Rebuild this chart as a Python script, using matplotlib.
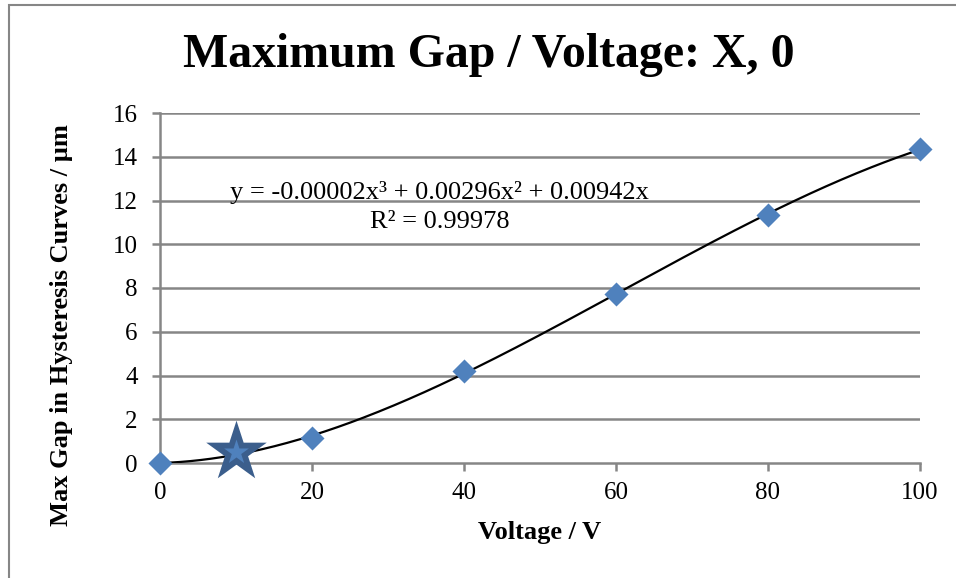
import numpy as np
import matplotlib.pyplot as plt
from matplotlib.patches import Rectangle

# datos
voltaje = [0, 20, 40, 60, 80, 100]
gap_max = [0, 1.14, 4.2, 7.73, 11.34, 14.35]
voltaje_estrella = [10]
gap_estrella = [0.5]
ticks_y = [0, 2, 4, 6, 8, 10, 12, 14, 16]
ticks_x = [0, 20, 40, 60, 80, 100]

plt.rcParams['font.family'] = ['Liberation Serif', 'DejaVu Serif']

fig = plt.figure(figsize=(9.56, 5.78), dpi=100)
ax = fig.add_axes([160/956, 1 - 463/578, 760/956, 350/578])

# borde del area del grafico (estilo excel)
fig.patches.append(Rectangle((9/956, -0.1), 1.2, 1 - 5/578 + 0.1, transform=fig.transFigure,
                             fill=False, edgecolor='#868686', lw=1.5))

# linea de tendencia cubica sin ordenada al origen
v = np.array(voltaje, dtype=float)
g = np.array(gap_max)
A = np.column_stack([v**3, v**2, v])
coef = np.linalg.lstsq(A, g, rcond=None)[0]
xs = np.linspace(0, 100, 300)
ys = coef[0]*xs**3 + coef[1]*xs**2 + coef[2]*xs

for y in ticks_y[1:]:
    ax.axhline(y, color='#868686', lw=1.8, zorder=1)

ax.plot(xs, ys, color='black', lw=1.6, zorder=3)
ax.scatter(voltaje, gap_max, marker='D', s=150, color='#4F81BD', zorder=4, linewidths=0)
ax.scatter(voltaje_estrella, gap_estrella, marker='*', s=2100, color='#3B5E8C', zorder=5, linewidths=0)
ax.scatter(voltaje_estrella, gap_estrella, marker='*', s=350, color='#4F81BD', zorder=6, linewidths=0)

ax.set_xlim(0, 100)
ax.set_ylim(0, 16)
ax.set_xticks(ticks_x)
ax.set_yticks(ticks_y)
for s in ['top', 'right']:
    ax.spines[s].set_visible(False)
for s in ['left', 'bottom']:
    ax.spines[s].set_color('#868686')
    ax.spines[s].set_linewidth(1.8)
ax.tick_params(axis='both', colors='#868686', width=1.8, length=6, labelsize=18, labelcolor='black')
ax.tick_params(axis='y', pad=10)
ax.tick_params(axis='x', pad=8)
for c in ax.collections:
    c.set_clip_on(False)

ax.text(36.8, 12.35, 'y = -0.00002x³ + 0.00296x² + 0.00942x', fontsize=19, ha='center', va='center')
ax.text(36.8, 11.0, 'R² = 0.99978', fontsize=19, ha='center', va='center')

fig.text(489/956, 1 - 55/578, 'Maximum Gap / Voltage: X, 0', fontsize=34.5, fontweight='bold',
         ha='center', va='center')
fig.text(540/956, 1 - 533/578, 'Voltage / V', fontsize=19, fontweight='bold', ha='center', va='center')
fig.text(62/956, 1 - 325/578, 'Max Gap in Hysteresis Curves / µm', fontsize=19, fontweight='bold',
         ha='center', va='center', rotation=90)

fig.savefig('out.png', dpi=100)
